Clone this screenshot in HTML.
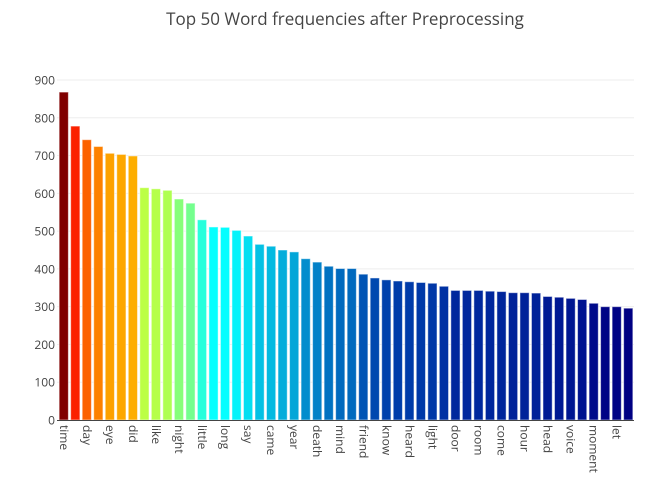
<!DOCTYPE html>
<html><head><meta charset="utf-8"><style>
body{margin:0;background:#fff;}
svg{display:block;font-family:"Open Sans","Liberation Sans",sans-serif;}
</style></head><body>
<svg id="chart" width="667" height="482" xmlns="http://www.w3.org/2000/svg">
<text x="345" y="25" text-anchor="middle" font-size="17" fill="#444">Top 50 Word frequencies after Preprocessing</text>
<g id="grid"></g><g id="bars"></g><g id="yticks"></g><g id="xticks"></g>
<line x1="57" x2="634" y1="420.5" y2="420.5" stroke="#444" stroke-width="1"/>
</svg>
<script>
const words = ["time","man","day","thing","eye","hand","did","old","like","good","night","way","little","thought","long","house","say","face","came","life","year","great","death","saw","mind","heart","friend","went","know","place","heard","world","light","love","door","word","room","night2","come","men","hour","water","head","look","voice","told","moment","morning","let","work"];
const counts = [868,778,742,724,706,703,699,615,612,608,585,574,530,511,510,502,487,465,460,450,445,427,418,407,401,401,386,376,371,368,366,364,362,354,343,343,343,341,340,337,337,336,327,325,322,319,309,300,300,296];
const yTicks = [0,100,200,300,400,500,600,700,800,900];
const ns="http://www.w3.org/2000/svg";
const X0=58, X1=634, Y0=420, Y900=80;
const step=(X1-X0)/words.length;
const x=i=>X0+i*step;
const y=v=>Y0-(v/900)*(Y0-Y900);
const jet=[[0,[0,0,131]],[0.125,[0,60,170]],[0.375,[5,255,255]],[0.625,[255,255,0]],[0.875,[250,0,0]],[1,[128,0,0]]];
function color(v){
  const mn=Math.min(...counts), mx=Math.max(...counts);
  const t=(v-mn)/(mx-mn);
  for(let k=1;k<jet.length;k++){ if(t<=jet[k][0]){
    const a=jet[k-1],b=jet[k],f=(t-a[0])/(b[0]-a[0]);
    const c=a[1].map((q,j)=>Math.round(q+(b[1][j]-q)*f));
    return `rgb(${c[0]},${c[1]},${c[2]})`;}}
  return 'rgb(128,0,0)';
}
function mk(tag,attrs,parent){const e=document.createElementNS(ns,tag);for(const k in attrs)e.setAttribute(k,attrs[k]);parent.appendChild(e);return e;}
const grid=document.getElementById('grid'),bars=document.getElementById('bars'),yt=document.getElementById('yticks'),xt=document.getElementById('xticks');
yTicks.forEach(v=>{
  if(v>0){const g=mk('line',{x1:X0-1,x2:X1,y1:y(v),y2:y(v),stroke:'#eee','stroke-width':1},grid);
  
  }
  const t=mk('text',{x:55,y:y(v)+4.5,'text-anchor':'end','font-size':12,fill:'#444'},yt);
  t.textContent=v;
  
  
});
counts.forEach((v,i)=>{
  const w=step*0.8;
  const r=mk('rect',{x:x(i)+(step-w)/2,y:y(v),width:w,height:Y0-y(v),fill:color(v),stroke:'rgba(255,255,255,0.5)','stroke-width':1},bars);
  
  
  if(i%2===0){
    const cx=x(i)+step/2-4;
    const t=mk('text',{x:cx,y:425,'font-size':12,fill:'#444',transform:`rotate(90 ${cx} 425)`},xt);
    t.textContent=words[i];
    
    
  }
});
</script>
</body></html>
